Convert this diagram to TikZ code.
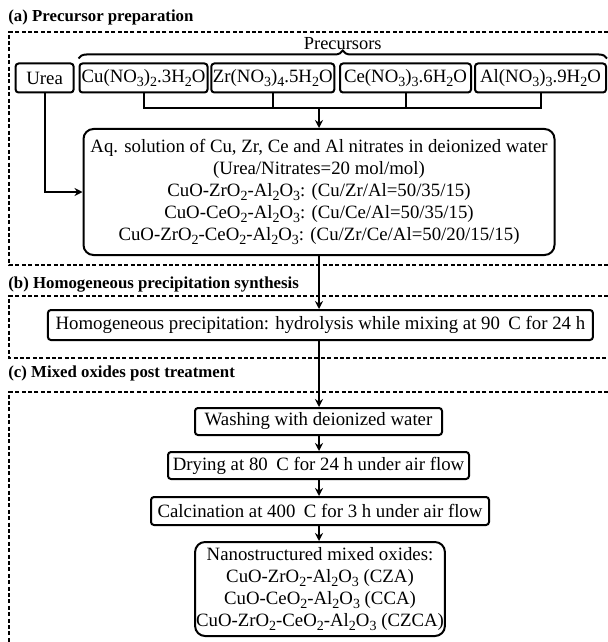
\documentclass[tikz,border=0pt]{standalone}
\usepackage{fontspec}
\setmainfont{Liberation Serif}
\usepackage{tikz}
\usetikzlibrary{arrows.meta,positioning,decorations.pathreplacing,calc}

\newcommand{\lowsub}[1]{\raisebox{-0.45ex}{\fontsize{7}{7}\selectfont #1}}
\newcommand{\degsp}{\hspace{0.45em}}

\tikzset{
  box/.style={draw,line width=1pt,rounded corners=1.5pt,inner sep=0.5pt,
    minimum height=14.5pt,font=\fontsize{9.4}{11}\selectfont},
  bigbox/.style={box,rounded corners=5pt,align=center},
  frame/.style={line width=0.8pt,dash pattern=on 2pt off 1.2pt},
  title/.style={anchor=west,inner sep=0pt,font=\bfseries\fontsize{8.4}{9}\selectfont},
  link/.style={line width=1pt},
  flow/.style={link,-{Stealth[length=4pt,width=4pt]}}
}

\begin{document}
\begin{tikzpicture}[x=0.5pt,y=-0.5pt]
\useasboundingbox (0,0) rectangle (608,642);

% section frames and titles
\node[title] (ttla) at (8,17) {(a) Precursor preparation};
\node[title] (ttlb) at (8,285) {(b) Homogeneous precipitation synthesis};
\node[title] (ttlc) at (8,373) {(c) Mixed oxides post treatment};
\draw[frame] (608,32) -- (9,32) -- (9,265) -- (608,265);
\draw[frame] (608,296) -- (9,296) -- (9,358) -- (608,358);
\draw[frame] (608,392) -- (9,392) -- (9,642);

% precursor row
\node[box,minimum width=29pt] (urea) at (44.6,78) {Urea};
\foreach \n/\x/\w/\lbl in {cuN/143.5/64/{Cu(NO\lowsub{3})\lowsub{2}.3H\lowsub{2}O},
    zrN/272.8/61.5/{Zr(NO\lowsub{3})\lowsub{4}.5H\lowsub{2}O},
    ceN/405.5/65.5/{Ce(NO\lowsub{3})\lowsub{3}.6H\lowsub{2}O},
    alN/540.5/65.5/{Al(NO\lowsub{3})\lowsub{3}.9H\lowsub{2}O}}{
  \node[box,minimum width=\w pt] (\n) at (\x,78) {\lbl};
}
\draw[link,decorate,decoration={brace,amplitude=4pt}]
  ($(cuN.north west)+(0,-4)$) -- ($(alN.north east)+(0,-4)$)
  node[midway,above=4pt,inner sep=0pt,font=\fontsize{9.2}{9}\selectfont] (prec) {Precursors};

% aqueous solution
\node[bigbox,minimum width=235.5pt,minimum height=63pt] (aqsol) at (319,192)
  {Aq. solution of Cu, Zr, Ce and Al nitrates in deionized water\\
   (Urea/Nitrates=20 mol/mol)\\
   CuO-ZrO\lowsub{2}-Al\lowsub{2}O\lowsub{3}: (Cu/Zr/Al=50/35/15)\\
   CuO-CeO\lowsub{2}-Al\lowsub{2}O\lowsub{3}: (Cu/Ce/Al=50/35/15)\\
   CuO-ZrO\lowsub{2}-CeO\lowsub{2}-Al\lowsub{2}O\lowsub{3}: (Cu/Zr/Ce/Al=50/20/15/15)};

\coordinate (join) at ($(aqsol.north)+(0,-20)$);
\foreach \n in {cuN,zrN,ceN,alN}
  \draw[link] (\n.south) |- (join);
\draw[flow] (join) -- (aqsol.north);
\draw[flow] (urea.south) |- (aqsol.west);

% synthesis and post treatment
\node[box,minimum width=272.5pt,minimum height=15pt] (hprec) at (320.4,325)
  {Homogeneous precipitation: hydrolysis while mixing at 90\degsp C for 24 h};
\node[box,minimum width=123.5pt,minimum height=13.5pt] (wash) at (318.5,421.5) {Washing with deionized water};
\node[box,minimum width=150.5pt,minimum height=13.5pt] (dry) at (318.5,465.5) {Drying at 80\degsp C for 24 h under air flow};
\node[box,minimum width=169pt,minimum height=14pt] (calc) at (320,511) {Calcination at 400\degsp C for 3 h under air flow};
\node[bigbox,minimum width=124pt,minimum height=47pt] (oxides) at (320,589)
  {Nanostructured mixed oxides:\\
   CuO-ZrO\lowsub{2}-Al\lowsub{2}O\lowsub{3} (CZA)\\
   CuO-CeO\lowsub{2}-Al\lowsub{2}O\lowsub{3} (CCA)\\
   CuO-ZrO\lowsub{2}-CeO\lowsub{2}-Al\lowsub{2}O\lowsub{3} (CZCA)};

\draw[flow] (aqsol.south) -- (aqsol.south |- hprec.north);
\foreach \a/\b in {hprec/wash,wash/dry,dry/calc,calc/oxides}
  \draw[flow] (\a.south -| aqsol.south) -- (aqsol.south |- \b.north);
\end{tikzpicture}
\end{document}
